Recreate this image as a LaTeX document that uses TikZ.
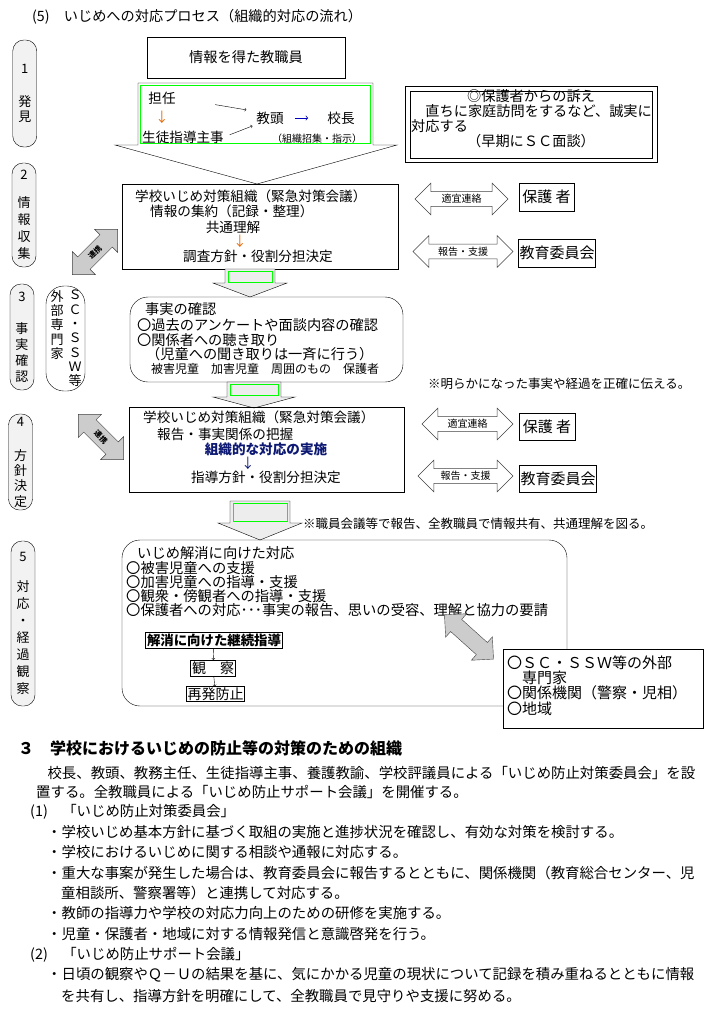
\documentclass[tikz,border=0pt]{standalone}
\usepackage{fontspec}
\setmainfont{Noto Sans CJK JP}
\usepackage{xcolor}
\usepackage{tikz}
\usetikzlibrary{shapes,positioning}
\newcommand{\fsz}[1]{\fontsize{#1}{#1}\selectfont}
\definecolor{pillgray}{gray}{0.95}
\definecolor{flowgray}{gray}{0.93}
\definecolor{diaggray}{gray}{0.8}
\definecolor{hotgreen}{rgb}{0,1,0}
\definecolor{orangearrow}{rgb}{0.9,0.42,0.04}
\definecolor{navyblue}{rgb}{0.05,0.1,0.45}
\tikzset{stage/.style={draw,rounded corners=11pt,fill=pillgray,minimum width=24pt,inner sep=0pt,align=center,font=\fontsize{13}{15}\selectfont}}
\tikzset{box/.style={draw,inner sep=0pt}}
\tikzset{txt/.style={inner sep=0pt,font=\fsz{13.6}}}
\tikzset{wtxt/.style={txt,anchor=west}}
\tikzset{body/.style={inner sep=0pt,anchor=west,font=\fsz{14.4}}}
\tikzset{dbl/.style={double arrow,draw=black!75,fill=white,double arrow head extend=8.5pt,minimum height=93pt,inner xsep=0pt,inner ysep=2.5pt,font=\fsz{10}}}
\tikzset{diag/.style={double arrow,draw=black!75,fill=diaggray,double arrow head extend=7.5pt,minimum height=64pt,inner xsep=0pt,inner ysep=5pt,font=\bfseries\fsz{7.5}}}
\tikzset{flow/.style={draw,fill=flowgray}}

\begin{document}
\begin{tikzpicture}[x=1pt,y=-1pt]
    \useasboundingbox (0,0) rectangle (707,1010);

    \node[wtxt,font=\fsz{14.2}] (title) at (32,17) {(5)　いじめへの対応プロセス（組織的対応の流れ）};

    % stages on the left
    \node[stage,minimum height=107pt] (s1) at (24.75,93.5) {1\\[18pt]発\\見};
    \node[stage,minimum height=104pt] (s2) at (24,215) {2\\[13pt]情\\[2pt]報\\[2pt]収\\[2pt]集};
    \node[stage,minimum height=106pt] (s3) at (22,337) {3\\[17pt]事\\[1pt]実\\[1pt]確\\[1pt]認};
    \node[stage,minimum height=96pt] (s4) at (20.5,462) {4\\[19pt]方\\針\\決\\[1pt]定};
    \node[stage,minimum height=165pt] (s5) at (23,623.5) {5\\[15pt]対\\[2pt]応\\[2pt]・\\[2pt]経\\[2pt]過\\[2pt]観\\[2pt]察};

    % 1 discovery
    \node[box,minimum width=198pt,minimum height=41pt,font=\fsz{14.2}] (info) at (246,57.5) {情報を得た教職員};
    \draw[fill=white] (138,83) -- (373,83) -- (373,145) -- (397,145) -- (257,184) -- (115,145) -- (138,145) -- cycle;
    \draw[hotgreen] (140.5,85.5) rectangle (370.5,143);
    \node[txt] (tannin) at (162,98) {担任};
    \node[txt,text=orangearrow] (down1) at (162,117) {↓};
    \node[wtxt] (shido) at (142,137) {生徒指導主事};
    \node[txt] (kyoto) at (270,118) {教頭};
    \node[txt] (kocho) at (341,118) {校長};
    \node[txt,font=\fsz{10}] (shoshu) at (317,139) {（組織招集・指示）};
    \draw [->,shorten <=40pt,shorten >=10pt] (tannin.east) to (kyoto.north west);
    \draw [->,shorten <=6pt,shorten >=4pt] (shido.east) to (kyoto.south west);
    \draw [->,blue!75!black,thick,shorten <=11pt,shorten >=19pt] (kyoto) to (kocho);

    \node[box,minimum width=252pt,minimum height=76pt] (appeal) at (531,124) {};
    \node[box,minimum width=242pt,minimum height=67pt] (appealin) at (531,124.5) {};
    \node[txt,font=\fsz{14.2}] (appeal1) at (531,96) {◎保護者からの訴え};
    \node[wtxt,font=\fsz{14.2}] (appeal2) at (411,111) {　直ちに家庭訪問をするなど、誠実に};
    \node[wtxt,font=\fsz{14.2}] (appeal3) at (411,126) {対応する};
    \node[txt,font=\fsz{14.2}] (appeal4) at (531,141) {（早期にＳＣ面談）};

    % 2 information
    \node[box,minimum width=276pt,minimum height=85pt] (meet) at (260,226.5) {};
    \node[wtxt] (meet1) at (135,196) {学校いじめ対策組織（緊急対策会議）};
    \node[wtxt] (meet2) at (150,211) {情報の集約（記録・整理）};
    \node[txt] (meet3) at (233,227) {共通理解};
    \node[txt,text=orangearrow] (meet4) at (240,241) {↓};
    \node[txt] (meet5) at (258,256) {調査方針・役割分担決定};

    \node[dbl] (renraku1) at (461.5,199) {適宜連絡};
    \node[box,minimum width=55pt,minimum height=28pt,font=\fsz{15}] (hogosha1) at (546.5,197) {保護 者};
    \node[dbl,minimum height=100pt] (shien1) at (463,251.5) {報告・支援};
    \node[box,minimum width=77pt,minimum height=28pt,font=\fsz{15}] (kyoiku1) at (557,253) {教育委員会};
    \node[diag,rotate=45] (renkei1) at (95,252) {連携};

    \draw[flow] (225,269) -- (275,269) -- (275,283) -- (287,283) -- (250,297) -- (213,283) -- (225,283) -- cycle;
    \draw[hotgreen] (228,271) rectangle (272,282);

    % 3 facts
    \node[box,fill=white,rounded corners=18pt,minimum width=39pt,minimum height=105pt] (ext) at (65.5,338.5) {};
    \node[txt,anchor=north,align=center,font=\fontsize{13}{14.3}\selectfont] (extl) at (57,290) {外\\部\\専\\門\\家};
    \node[txt,anchor=north,align=center,font=\fontsize{13}{14.3}\selectfont] (extr) at (75,290) {Ｓ\\Ｃ\\・\\Ｓ\\Ｓ\\Ｗ\\等};

    \node[box,rounded corners=18pt,minimum width=273pt,minimum height=85pt] (fact) at (266.5,339.5) {};
    \node[wtxt,font=\fsz{14.2}] (fact1) at (145,309) {事実の確認};
    \node[wtxt,font=\fsz{14.2}] (fact2) at (137,325) {〇過去のアンケートや面談内容の確認};
    \node[wtxt,font=\fsz{14.2}] (fact3) at (137,340) {〇関係者への聴き取り};
    \node[wtxt,font=\fsz{14.2}] (fact4) at (146,354) {（児童への聞き取りは一斉に行う）};
    \node[wtxt,font=\fsz{12}] (fact5) at (151,369) {被害児童　加害児童　周囲のもの　保護者};
    \node[wtxt,font=\fsz{12.5}] (note1) at (428,384) {※明らかになった事実や経過を正確に伝える。};

    \draw[flow] (227,382) -- (281,382) -- (281,397) -- (295,397) -- (254,408) -- (213,397) -- (227,397) -- cycle;
    \draw[hotgreen] (230,384) rectangle (278,395);

    % 4 policy
    \node[box,minimum width=275pt,minimum height=85pt] (policy) at (266.5,449.5) {};
    \node[wtxt] (policy1) at (143,417) {学校いじめ対策組織（緊急対策会議）};
    \node[wtxt] (policy2) at (157,434) {報告・事実関係の把握};
    \node[txt,font=\bfseries\fsz{13.6},text=navyblue] (policy3) at (266,449) {組織的な対応の実施};
    \node[txt,text=navyblue] (policy4) at (248,463) {↓};
    \node[txt] (policy5) at (266,477) {指導方針・役割分担決定};

    \node[dbl,minimum height=91pt] (renraku2) at (467.5,424) {適宜連絡};
    \node[box,minimum width=56pt,minimum height=27pt,font=\fsz{15}] (hogosha2) at (547,427) {保護 者};
    \node[dbl,minimum height=95pt] (shien2) at (465.5,476) {報告・支援};
    \node[box,minimum width=77pt,minimum height=27pt,font=\fsz{15}] (kyoiku2) at (558,479) {教育委員会};
    \node[diag,rotate=-45] (renkei2) at (101,437) {連携};

    \draw[flow] (230,501) -- (290,501) -- (290,523) -- (302,523) -- (260,540) -- (218,523) -- (230,523) -- cycle;
    \draw[hotgreen] (233,503) rectangle (287,521);
    \node[wtxt,font=\fsz{12.5}] (note2) at (303,524) {※職員会議等で報告、全教職員で情報共有、共通理解を図る。};

    % 5 response
    \node[box,rounded corners=18pt,minimum width=445pt,minimum height=166pt] (resolve) at (344.5,623) {};
    \node[wtxt,font=\fsz{14.3}] (res0) at (137,553) {いじめ解消に向けた対応};
    \node[wtxt,font=\fsz{14.3}] (res1) at (126,568) {〇被害児童への支援};
    \node[wtxt,font=\fsz{14.3}] (res2) at (126,582) {〇加害児童への指導・支援};
    \node[wtxt,font=\fsz{14.3}] (res3) at (126,596) {〇観衆・傍観者への指導・支援};
    \node[wtxt,font=\fsz{14.3}] (res4) at (126,610) {〇保護者への対応･･･事実の報告、思いの受容、理解と協力の要請};

    \node[draw,inner sep=1.5pt,font=\bfseries\fsz{13.4}] (keizoku) at (214,640) {解消に向けた継続指導};
    \node[draw,inner sep=1.5pt,font=\fsz{14}] (kansatsu) at (213,668) {観　察};
    \node[draw,inner sep=1pt,font=\fsz{14}] (saihatsu) at (215.5,694) {再発防止};
    \draw [->] (keizoku) to (kansatsu);
    \draw [->] (kansatsu) to (saihatsu);

    \node[diag,rotate=-42,minimum height=66pt,inner ysep=8pt] (renkei3) at (469,637) {};
    \node[box,fill=white,minimum width=200pt,minimum height=79pt] (outside) at (603,688.5) {};
    \node[wtxt,font=\fsz{15}] (out1) at (507,663) {〇ＳＣ・ＳＳＷ等の外部};
    \node[wtxt,font=\fsz{15}] (out2) at (507,678) {　専門家};
    \node[wtxt,font=\fsz{15}] (out3) at (507,693) {〇関係機関（警察・児相）};
    \node[wtxt,font=\fsz{15}] (out4) at (507,709) {〇地域};

    % section 3
    \node[body,font=\bfseries\fsz{16}] (sec3) at (18,748) {３　学校におけるいじめの防止等の対策のための組織};
    \node[body] (p1) at (33,773) {　校長、教頭、教務主任、生徒指導主事、養護教諭、学校評議員による「いじめ防止対策委員会」を設};
    \node[body] (p2) at (36,792) {置する。全教職員による「いじめ防止サポート会議」を開催する。};
    \node[body] (h1) at (30,812) {(1)　「いじめ防止対策委員会」};
    \node[body] (b1) at (47,832) {・学校いじめ基本方針に基づく取組の実施と進捗状況を確認し、有効な対策を検討する。};
    \node[body] (b2) at (47,852) {・学校におけるいじめに関する相談や通報に対応する。};
    \node[body] (b3) at (47,873) {・重大な事案が発生した場合は、教育委員会に報告するとともに、関係機関（教育総合センター、児};
    \node[body] (b3b) at (61,893) {童相談所、警察署等）と連携して対応する。};
    \node[body] (b4) at (47,913) {・教師の指導力や学校の対応力向上のための研修を実施する。};
    \node[body] (b5) at (47,934) {・児童・保護者・地域に対する情報発信と意識啓発を行う。};
    \node[body] (h2) at (30,955) {(2)　「いじめ防止サポート会議」};
    \node[body] (b6) at (47,975) {・日頃の観察やＱ－Ｕの結果を基に、気にかかる児童の現状について記録を積み重ねるとともに情報};
    \node[body] (b7) at (61,996) {を共有し、指導方針を明確にして、全教職員で見守りや支援に努める。};
\end{tikzpicture}
\end{document}
